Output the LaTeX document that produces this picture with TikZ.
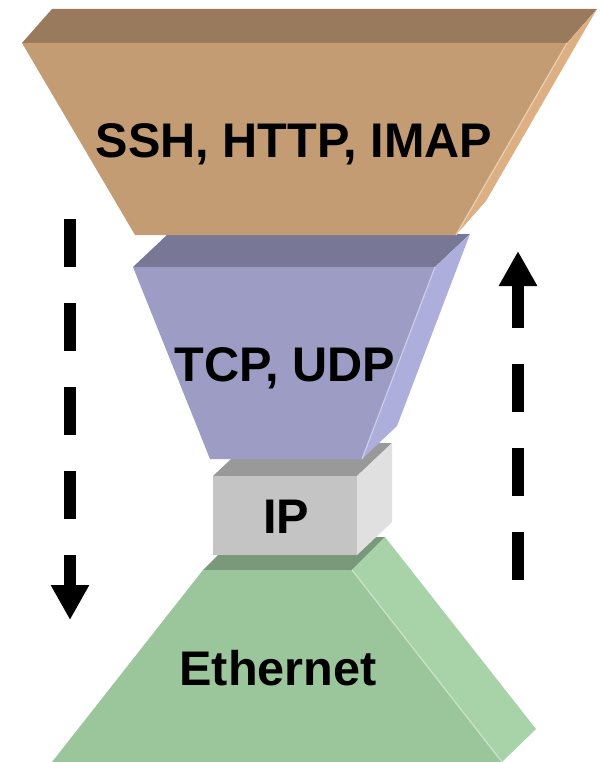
\documentclass[tikz,border=0pt]{standalone}
\usepackage{fontspec}
\setmainfont{Liberation Sans}
\usetikzlibrary{positioning, arrows.meta}
\definecolor{appfront}{RGB}{196,156,116}
\definecolor{apptop}{RGB}{153,122,92}
\definecolor{appside}{RGB}{220,176,130}
\definecolor{tptfront}{RGB}{156,156,196}
\definecolor{tpttop}{RGB}{120,120,150}
\definecolor{tptside}{RGB}{174,174,220}
\definecolor{netfront}{RGB}{196,196,196}
\definecolor{nettop}{RGB}{153,153,153}
\definecolor{netside}{RGB}{224,224,224}
\definecolor{linkfront}{RGB}{155,197,155}
\definecolor{linktop}{RGB}{122,153,122}
\definecolor{linkside}{RGB}{168,210,168}

\begin{document}
\begin{tikzpicture}[x=0.03cm, y=-0.03cm,
            layertext/.style={font=\bfseries\fontsize{41.5pt}{48pt}\selectfont, inner sep=0pt, text height=30pt, text depth=0pt},
            flow/.style={line width=0.36cm, dash pattern=on 1.44cm off 1.08cm, -{Triangle[width=1.08cm, length=1.05cm]}}
        ]
        \useasboundingbox (0,0) rectangle (601,762);
        % Link layer (bottom)
        \fill[linktop] (203,570) -- (236,537) -- (385,537) -- (352,570) -- cycle;
        \fill[linkside] (352,570) -- (385,537) -- (536,729) -- (502,762) -- cycle;
        \fill[linkfront] (203,570) -- (352,570) -- (502,762) -- (52,762) -- cycle;
        \draw[linkside!60!white, line width=1pt] (352,570) -- (502,762);
        % Network layer
        \fill[nettop] (213,476) -- (248,443) -- (392,443) -- (357,476) -- cycle;
        \fill[netside] (357,476) -- (392,443) -- (392,522) -- (357,555) -- cycle;
        \fill[netfront] (213,476) rectangle (357,555);
        % Transport layer
        \fill[tpttop] (133,267) -- (168,234) -- (470,234) -- (435,267) -- cycle;
        \fill[tptside] (435,267) -- (470,234) -- (397,426) -- (362,459) -- cycle;
        \fill[tptfront] (133,267) -- (435,267) -- (362,459) -- (210,459) -- cycle;
        \draw[tptside!60!white, line width=1pt] (435,267) -- (362,459);
        % Application layer (top)
        \fill[apptop] (22,43) -- (52,9) -- (597,9) -- (567,43) -- cycle;
        \fill[appside] (567,43) -- (597,9) -- (486,201) -- (456,235) -- cycle;
        \fill[appfront] (22,43) -- (567,43) -- (456,235) -- (135,235) -- cycle;
        \draw[appside!60!white, line width=1pt] (567,43) -- (456,235);
        % Labels
        \node[layertext] (app) at (294,140) {SSH, HTTP, IMAP};
        \node[layertext] (tpt) at (285,364) {TCP, UDP};
        \node[layertext] (net) at (286,516) {IP};
        \node[layertext] (link) at (278,668) {Ethernet};
        % Send and receive directions
        \coordinate (sendtop) at (70,219);
        \coordinate (sendend) at (70,620);
        \coordinate (recvbot) at (518,580);
        \coordinate (recvend) at (518,251);
        \draw[flow] (sendtop) -- (sendend);
        \draw[flow] (recvbot) -- (recvend);
        \end{tikzpicture}
\end{document}
